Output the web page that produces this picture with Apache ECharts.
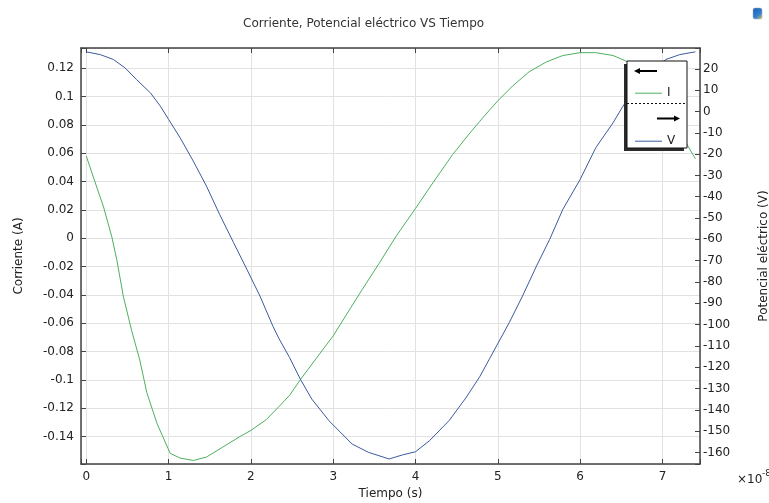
<!DOCTYPE html>
<html>
<head>
<meta charset="utf-8">
<script src="https://cdn.jsdelivr.net/npm/echarts@6.0.0/dist/echarts.min.js"></script>
<style>
  html, body { margin: 0; padding: 0; background: #fff; }
  #main { width: 769px; height: 503px; }
</style>
</head>
<body>
<div id="main"></div>
<script>
// tiempo en unidades de 1e-8 s
var tI = [0, 0.11, 0.21, 0.31, 0.37, 0.45, 0.55, 0.65, 0.735, 0.86, 1.02, 1.14, 1.30, 1.46, 1.66, 1.87,
  2.0, 2.19, 2.34, 2.47, 2.60, 2.87, 3.0, 3.15, 3.35, 3.56, 3.76, 4.0, 4.21, 4.45, 4.65, 4.78, 4.90,
  5.0, 5.18, 5.38, 5.59, 5.79, 6.0, 6.19, 6.40, 6.56, 6.75, 6.95, 7.15, 7.29, 7.40];
var corriente = [0.058, 0.039, 0.022, 0.001, -0.015, -0.041, -0.065, -0.086, -0.109, -0.131, -0.152, -0.1553, -0.157, -0.1546, -0.1475, -0.140,
  -0.1358, -0.128, -0.119, -0.111, -0.100, -0.079, -0.069, -0.055, -0.0365, -0.0176, 0.001, 0.021, 0.039, 0.059, 0.0735, 0.0825, 0.0905,
  0.097, 0.1075, 0.1175, 0.1245, 0.129, 0.131, 0.131, 0.129, 0.125, 0.115, 0.099, 0.080, 0.067, 0.056];

var tV = [0, 0.17, 0.33, 0.47, 0.61, 0.78, 0.90, 1.0, 1.14, 1.30, 1.46, 1.62, 1.79, 1.95, 2.11, 2.27, 2.34,
  2.47, 2.60, 2.74, 2.95, 3.23, 3.43, 3.68, 3.84, 4.0, 4.17, 4.41, 4.61, 4.78, 4.90, 5.14, 5.30, 5.47,
  5.63, 5.79, 6.0, 6.19, 6.40, 6.52, 6.70, 6.85, 7.04, 7.21, 7.40];
var potencial = [28.0, 26.7, 24.4, 20.5, 15.0, 8.7, 2.5, -3.7, -12.3, -23.3, -35.0, -48.3, -61.6, -74.0, -86.6, -101.0, -106.5,
  -115.5, -125.6, -135.0, -145.2, -156.1, -160.0, -163.1, -161.2, -159.7, -154.5, -145.0, -134.5, -124.5, -116.0, -99.0, -86.6, -72.5,
  -60.0, -45.9, -31.9, -17.0, -5.3, 2.5, 12.0, 18.5, 24.4, 26.7, 28.0];

var xRange = [-0.064, 7.456];
var iRange = [-0.1595, 0.1343];
var vRange = [-165.45, 29.8];

var FONT = 'DejaVu Sans';
var verde = '#4fb05f';
var azul = '#3b5b9f';

function pares(xs, ys) {
  var out = [];
  for (var i = 0; i < xs.length; i++) out.push([xs[i], ys[i]]);
  return out;
}
// solo etiquetas en multiplos del paso (oculta los extremos del eje)
function etiqueta(paso, dec) {
  return function (v) {
    var k = v / paso;
    if (Math.abs(k - Math.round(k)) > 1e-6) return '';
    return String(+(Math.round(k) * paso).toFixed(dec));
  };
}

var myChart = echarts.init(document.getElementById('main'));
var frame = { show: true, onZero: false, lineStyle: { color: '#444', width: 1.5 } };
var ticks = { show: true, inside: true, length: 5, lineStyle: { color: '#444' } };
var txt = { fontFamily: FONT, fontSize: 12, color: '#222' };

myChart.setOption({
  animation: false,
  backgroundColor: '#fff',
  title: {
    text: 'Corriente, Potencial eléctrico VS Tiempo',
    left: 243, top: 18, padding: 0,
    textStyle: { fontFamily: FONT, fontSize: 12, fontWeight: 'normal', color: '#333' }
  },
  grid: { left: 81, right: 69, top: 48, bottom: 39, containLabel: false, outerBoundsMode: 'none' },
  legend: [
    { data: ['I'], left: 635, top: 87.2, padding: 0, icon: 'rect', itemWidth: 27, itemHeight: 1, z: 200, textStyle: txt },
    { data: ['V'], left: 635, top: 135.2, padding: 0, icon: 'rect', itemWidth: 27, itemHeight: 1, z: 200, textStyle: txt }
  ],
  xAxis: [
    {
      type: 'value', min: xRange[0], max: xRange[1], minInterval: 1, maxInterval: 1,
      name: 'Tiempo (s)', nameLocation: 'middle', nameGap: 22, nameTextStyle: txt,
      axisLine: frame, axisTick: ticks,
      axisLabel: { margin: 7, fontFamily: FONT, fontSize: 12, color: '#222', formatter: etiqueta(1, 0) },
      splitLine: { show: true, lineStyle: { color: '#e2e2e2', width: 1 } }
    },
    {
      type: 'value', position: 'top', min: xRange[0], max: xRange[1], minInterval: 1, maxInterval: 1,
      axisLine: frame, axisTick: ticks,
      axisLabel: { show: false },
      splitLine: { show: false }
    }
  ],
  yAxis: [
    {
      type: 'value', min: iRange[0], max: iRange[1], minInterval: 0.02, maxInterval: 0.02,
      name: 'Corriente (A)', nameLocation: 'middle', nameGap: 56, nameTextStyle: txt,
      axisLine: frame, axisTick: ticks,
      axisLabel: { margin: 7, fontFamily: FONT, fontSize: 12, color: '#222', formatter: etiqueta(0.02, 2) },
      splitLine: { show: true, lineStyle: { color: '#e2e2e2', width: 1 } }
    },
    {
      type: 'value', position: 'right', min: vRange[0], max: vRange[1], minInterval: 10, maxInterval: 10,
      name: 'Potencial eléctrico (V)', nameLocation: 'middle', nameGap: 58, nameTextStyle: txt,
      axisLine: frame, axisTick: ticks,
      axisLabel: { margin: 3, fontFamily: FONT, fontSize: 12, color: '#222', formatter: etiqueta(10, 0) },
      splitLine: { show: false }
    }
  ],
  series: [
    {
      name: 'I', type: 'line', xAxisIndex: 0, yAxisIndex: 0, symbol: 'none',
      data: pares(tI, corriente),
      lineStyle: { color: verde, width: 1 }, itemStyle: { color: verde }
    },
    {
      name: 'V', type: 'line', xAxisIndex: 0, yAxisIndex: 1, symbol: 'none',
      data: pares(tV, potencial),
      lineStyle: { color: azul, width: 1 }, itemStyle: { color: azul }
    }
  ],
  graphic: [
    // caja de la leyenda con sombra
    { type: 'rect', z: 100, shape: { x: 624, y: 64, width: 60, height: 87 }, style: { fill: '#2b2b2b' } },
    { type: 'rect', z: 101, shape: { x: 627, y: 61, width: 60, height: 87 }, style: { fill: '#fff', stroke: '#111', lineWidth: 1 } },
    { type: 'line', z: 102, shape: { x1: 627, y1: 103.5, x2: 687, y2: 103.5 }, style: { stroke: '#111', lineWidth: 1, lineDash: [2, 2] } },
    // flecha izquierda (eje I)
    { type: 'line', z: 102, shape: { x1: 657, y1: 71, x2: 639, y2: 71 }, style: { stroke: '#000', lineWidth: 2 } },
    { type: 'polygon', z: 102, shape: { points: [[634, 71], [640, 68], [640, 74]] }, style: { fill: '#000' } },
    // flecha derecha (eje V)
    { type: 'line', z: 102, shape: { x1: 657, y1: 118.5, x2: 675, y2: 118.5 }, style: { stroke: '#000', lineWidth: 2 } },
    { type: 'polygon', z: 102, shape: { points: [[680, 118.5], [674, 115.5], [674, 121.5]] }, style: { fill: '#000' } },
    // exponente del eje x
    { type: 'text', z: 10, style: { text: '×10', x: 737, y: 480, verticalAlign: 'middle', font: '12px "DejaVu Sans"', fill: '#222' } },
    { type: 'text', z: 10, style: { text: '-8', x: 762, y: 474, verticalAlign: 'middle', font: '9px "DejaVu Sans"', fill: '#222' } },
    // icono
    {
      type: 'rect', z: 10, shape: { x: 753, y: 8, width: 9, height: 11, r: 2 },
      style: {
        fill: new echarts.graphic.LinearGradient(0, 0, 1, 1, [
          { offset: 0, color: '#1f5db3' }, { offset: 0.6, color: '#2f7fd0' }, { offset: 1, color: '#e0c84a' }
        ]),
        stroke: '#9ab', lineWidth: 0.5
      }
    }
  ]
});
</script>
</body>
</html>
